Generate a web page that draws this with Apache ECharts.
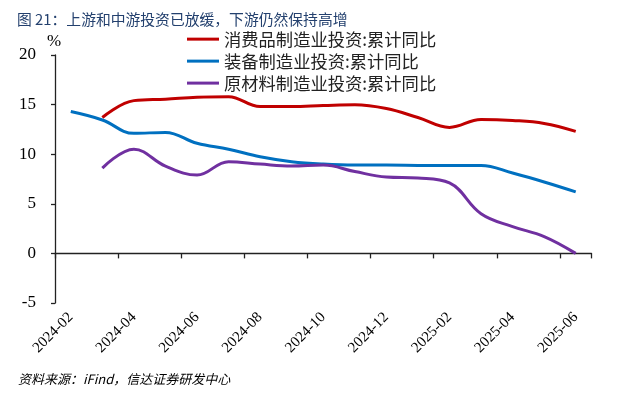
<!DOCTYPE html>
<html>
<head>
<meta charset="utf-8">
<script src="https://cdn.jsdelivr.net/npm/echarts@6/dist/echarts.min.js"></script>
<style>
html,body{margin:0;padding:0;background:#fff;}
#c{width:619px;height:394px;}
</style>
</head>
<body>
<div id="c"></div>
<script>
var months = ['2024-02','2024-03','2024-04','2024-05','2024-06','2024-07','2024-08','2024-09','2024-10','2024-11','2024-12','2025-01','2025-02','2025-03','2025-04','2025-05','2025-06'];
var seriesNames = ['消费品制造业投资:累计同比','装备制造业投资:累计同比','原材料制造业投资:累计同比'];
var consumerGoods = [null,13.7,15.4,15.55,15.75,15.8,14.8,14.8,14.9,14.98,14.6,13.7,12.7,13.5,13.4,13.1,12.3];
var equipment = [14.3,13.45,12.1,12.2,11.1,10.5,9.75,9.25,9.0,8.9,8.9,8.87,8.85,8.87,8.1,7.2,6.2];
var rawMaterials = [null,8.6,10.5,8.8,7.9,9.25,9.0,8.8,8.9,8.25,7.7,7.6,7.1,4.0,2.7,1.7,0.0];
var yTicks = {min:-5, max:20, interval:5};
var titleText = '图 21：上游和中游投资已放缓，下游仍然保持高增';
var sourceText = '资料来源：iFind，信达证券研发中心';
var unitText = '%';

var colors = ['#C00000','#0070C0','#7030A0'];
var chart = echarts.init(document.getElementById('c'), null, {renderer:'canvas'});
var serif = '"Liberation Serif", "Times New Roman", serif';
var cjk = '"Noto Sans CJK SC", sans-serif';
function mk(name, data, color){
  return {name:name, type:'line', data:data, xAxisIndex:0, yAxisIndex:0,
    smooth:0.4, showSymbol:false, symbol:'none', connectNulls:false,
    lineStyle:{color:color, width:3}, itemStyle:{color:color}};
}
chart.setOption({
  animation:false,
  backgroundColor:'#fff',
  title:{text:titleText, left:12, top:7, textStyle:{fontFamily:cjk, fontSize:14.8, fontWeight:'normal', color:'#23406e'}},
  graphic:[
    {type:'text', left:47, top:33, style:{text:unitText, font:'17px '+serif, fill:'#000'}},
    {type:'text', left:18, top:373, style:{text:sourceText, font:'italic 13px '+cjk, fill:'#000'}}
  ],
  legend:{orient:'vertical', left:187, top:30.5, padding:0, itemGap:4.7, itemWidth:32, itemHeight:3, icon:'rect',
    data:seriesNames, selectedMode:false,
    textStyle:{fontFamily:cjk, fontSize:17.3, color:'#222'}},
  grid:{left:55, right:27.5, top:55, bottom:91, containLabel:false},
  xAxis:[
    {type:'category', data:months, boundaryGap:true, position:'bottom',
      axisLine:{onZero:true, lineStyle:{color:'#222', width:1.3}},
      axisTick:{show:true, interval:1, length:5, lineStyle:{color:'#222', width:1.3}},
      axisLabel:{show:false}, splitLine:{show:false}},
    {type:'category', data:months, boundaryGap:true, position:'bottom',
      axisLine:{show:false, onZero:false}, axisTick:{show:false},
      axisLabel:{show:true, interval:1, rotate:45, margin:12, fontFamily:serif, fontSize:15, color:'#000'},
      splitLine:{show:false}}
  ],
  yAxis:{type:'value', min:yTicks.min, max:yTicks.max, interval:yTicks.interval,
    axisLine:{show:true, lineStyle:{color:'#222', width:1.3}},
    axisTick:{show:true, length:4, lineStyle:{color:'#222', width:1.3}},
    axisLabel:{margin:19, fontFamily:serif, fontSize:17, color:'#000'},
    splitLine:{show:false}},
  series:[mk(seriesNames[0], consumerGoods, colors[0]), mk(seriesNames[1], equipment, colors[1]), mk(seriesNames[2], rawMaterials, colors[2])]
});
</script>
</body>
</html>
